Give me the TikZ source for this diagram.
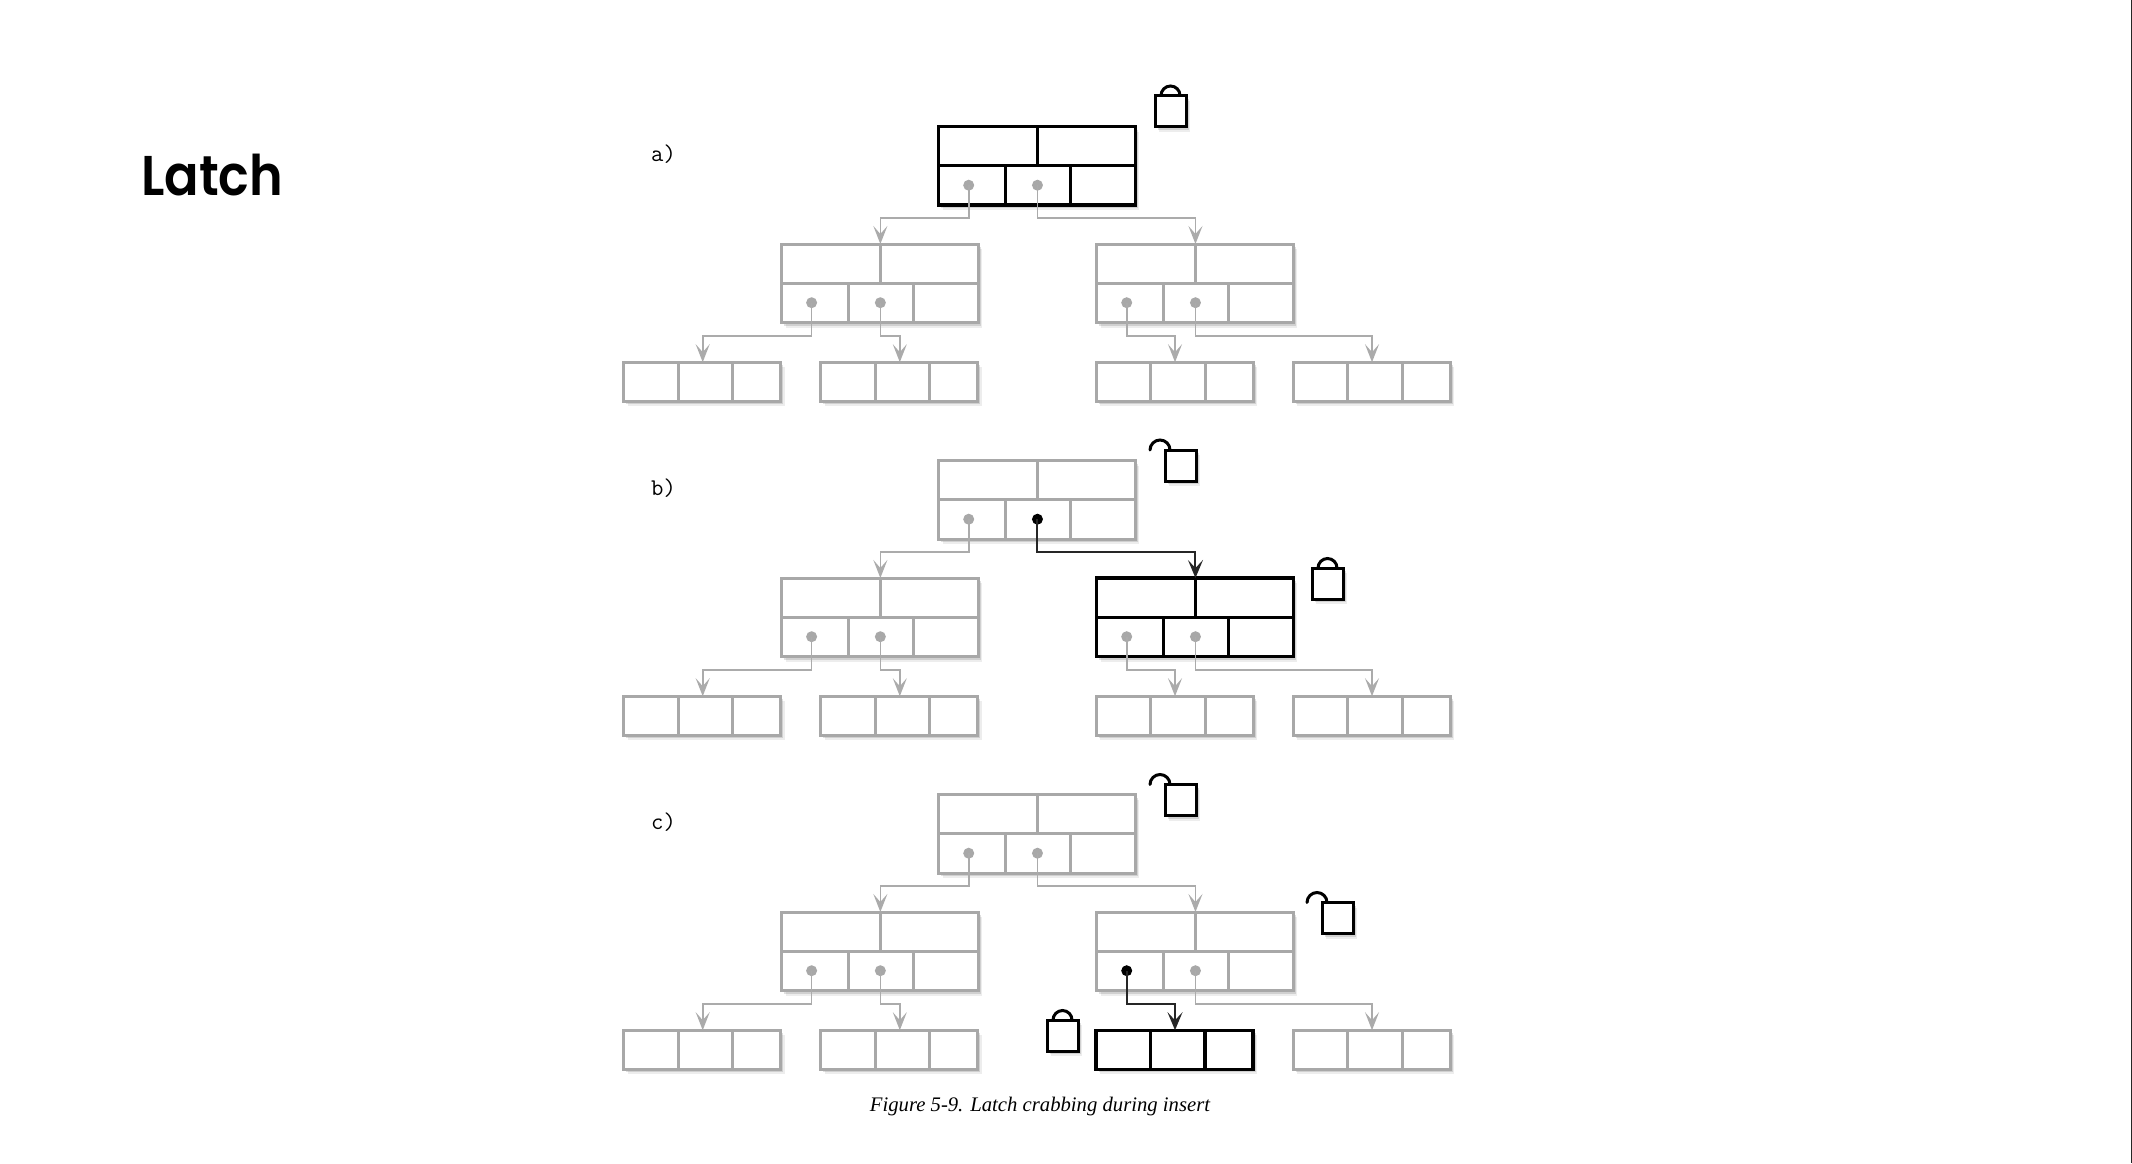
\documentclass[tikz,border=0pt]{standalone}
\usepackage{fontspec}
\usetikzlibrary{arrows.meta,shadows}
\newfontfamily\titlefont{Poppins SemiBold}[FakeStretch=0.91]
\newfontfamily\capfont{Liberation Serif}
\definecolor{boxgray}{HTML}{A8A8A8}
\definecolor{linkgray}{HTML}{ABABAB}
\tikzset{
  softshadow/.style={
    general shadow={fill=black,opacity=.07,shadow xshift=4pt,shadow yshift=-5pt},
    general shadow={fill=black,opacity=.12,shadow xshift=2.5pt,shadow yshift=-3pt}},
  idle/.style={draw=boxgray,line width=3pt},
  held/.style={draw=black,line width=3.2pt},
  pagebox/.style={rectangle,fill=white,inner sep=0pt,outer sep=0pt,anchor=north west,softshadow},
  intbox/.style={pagebox,minimum width=196.5pt,minimum height=78.5pt},
  leafbox/.style={pagebox,minimum width=157pt,minimum height=39pt},
  grayptr/.style={circle,fill=boxgray,inner sep=0pt,outer sep=0pt,minimum size=11pt},
  blackptr/.style={circle,fill=black,inner sep=0pt,outer sep=0pt,minimum size=11pt},
  graylink/.style={draw=linkgray,line width=1.7pt,-{Stealth[length=18pt,width=14pt,inset=8pt]}},
  blacklink/.style={draw=black!85,line width=2pt,-{Stealth[length=18pt,width=15pt,inset=8pt]}},
  lockbody/.style={pagebox,draw=black,line width=3pt,minimum size=31pt},
  shackle/.style={draw=black,line width=3pt,line cap=round},
  panellabel/.style={anchor=base west,inner sep=0pt,font=\ttfamily\fontsize{24}{26}\selectfont},
}
% name, x, y, box style, style of pointer 1, style of pointer 2
\newcommand{\intnode}[6]{%
  \node[intbox,#4] (#1) at (#2,#3) {};
  \draw[#4] ([xshift=.5pt]#1.north) -- ([xshift=.5pt]#1.center);
  \draw[#4] (#1.west) -- (#1.east);
  \draw[#4] ([xshift=67pt]#1.south west) -- ([xshift=67pt]#1.west);
  \draw[#4] ([xshift=131.5pt]#1.south west) -- ([xshift=131.5pt]#1.west);
  \node[#5] (#1-p) at ([xshift=30pt,yshift=19.8pt]#1.south west) {};
  \node[#6] (#1-q) at ([xshift=.5pt,yshift=19.8pt]#1.south) {};
  \coordinate (#1-in) at ([xshift=.5pt]#1.north);
  \coordinate (#1-bend) at ([xshift=.5pt,yshift=26.3pt]#1.north);
}
\newcommand{\leafnode}[4]{%
  \node[leafbox,#4] (#1) at (#2,#3) {};
  \draw[#4] ([xshift=54.7pt]#1.north west) -- ([xshift=54.7pt]#1.south west);
  \draw[#4] ([xshift=109pt]#1.north west) -- ([xshift=109pt]#1.south west);
  \coordinate (#1-in) at ([xshift=79pt]#1.north west);
  \coordinate (#1-bend) at ([xshift=79pt,yshift=26.3pt]#1.north west);
}
\newcommand{\linkto}[3]{\draw[#1] (#2.center) |- (#3-bend) -- (#3-in);}
\newcommand{\lockshut}[3]{%
  \node[lockbody] (#1) at (#2,#3) {};
  \draw[shackle] ([xshift=6pt]#1.north west) arc[start angle=180,end angle=0,radius=9.5pt];
}
\newcommand{\lockopen}[3]{%
  \node[lockbody] (#1) at (#2,#3) {};
  \draw[shackle] ([xshift=-15pt]#1.north west) arc[start angle=180,end angle=0,radius=10pt];
}
\newcommand{\panel}[8]{%
  \intnode{#1r}{938.7}{126.5+#2}{#3}{grayptr}{#4}
  \intnode{#1l}{781.6}{244+#2}{idle}{grayptr}{grayptr}
  \intnode{#1m}{1096.7}{244+#2}{#5}{#6}{grayptr}
  \leafnode{#1a}{623.7}{362.2+#2}{idle}
  \leafnode{#1b}{820.8}{362.2+#2}{idle}
  \leafnode{#1c}{1096}{362.2+#2}{#7}
  \leafnode{#1d}{1293}{362.2+#2}{idle}
  #8
}
\begin{document}
\begin{tikzpicture}[x=1pt,y=-1pt]
\useasboundingbox (0,0) rectangle (2132,1163);
\fill[white] (0,0) rectangle (2132,1163);
\fill[black!85] (2130.6,0) rectangle (2132,1163);

\node[anchor=base west,inner sep=0pt,font=\titlefont\fontsize{56}{60}\selectfont] (title) at (141,195) {Latch};

\node[panellabel] (la) at (651,161) {a)};
\node[panellabel] (lb) at (651,495.5) {b)};
\node[panellabel] (lc) at (651,829.5) {c)};

% panel a
\panel{a}{0}{held}{grayptr}{idle}{grayptr}{idle}{%
  \linkto{graylink}{ar-p}{al}
  \linkto{graylink}{ar-q}{am}
  \linkto{graylink}{al-p}{aa}
  \linkto{graylink}{al-q}{ab}
  \linkto{graylink}{am-p}{ac}
  \linkto{graylink}{am-q}{ad}
}
\lockshut{alock}{1155}{95.5}

% panel b
\panel{b}{334}{idle}{blackptr}{held}{grayptr}{idle}{%
  \linkto{graylink}{br-p}{bl}
  \linkto{blacklink}{br-q}{bm}
  \linkto{graylink}{bl-p}{ba}
  \linkto{graylink}{bl-q}{bb}
  \linkto{graylink}{bm-p}{bc}
  \linkto{graylink}{bm-q}{bd}
}
\lockopen{block}{1165}{450}
\lockshut{bmlock}{1312}{568}

% panel c
\panel{c}{668}{idle}{grayptr}{idle}{blackptr}{held}{%
  \linkto{graylink}{cr-p}{cl}
  \linkto{graylink}{cr-q}{cm}
  \linkto{graylink}{cl-p}{ca}
  \linkto{graylink}{cl-q}{cb}
  \linkto{blacklink}{cm-p}{cc}
  \linkto{graylink}{cm-q}{cd}
}
\lockopen{clock}{1165}{784.5}
\lockopen{cmlock}{1322}{902.5}
\lockshut{cclock}{1047}{1020}

\node[anchor=base,inner sep=0pt,font=\capfont\itshape\fontsize{20.7}{24}\selectfont] (caption) at (1040,1111) {Figure 5-9. Latch crabbing during insert};
\end{tikzpicture}
\end{document}
